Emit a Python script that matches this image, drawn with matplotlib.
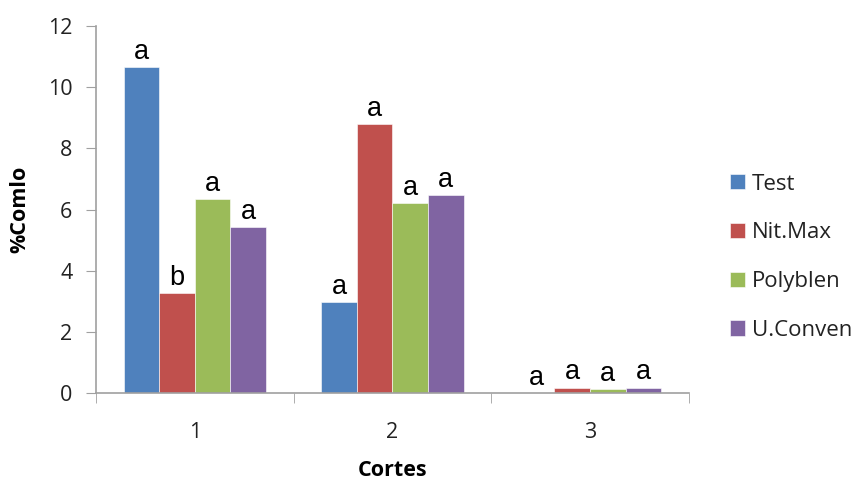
import matplotlib
matplotlib.use("Agg")
import matplotlib.pyplot as plt
import numpy as np

categories = ["1", "2", "3"]
series_names = ["Test", "Nit.Max", "Polyblen", "U.Conven"]
test = [10.66, 2.98, 0.0]
nitmax = [3.28, 8.78, 0.18]
polyblen = [6.34, 6.21, 0.13]
uconven = [5.42, 6.46, 0.18]
letters_test = ["a", "a", "a"]
letters_nitmax = ["b", "a", "a"]
letters_polyblen = ["a", "a", "a"]
letters_uconven = ["a", "a", "a"]
yticks = [0, 2, 4, 6, 8, 10, 12]

colors = ["#4F81BD", "#C0504D", "#9BBB59", "#8064A2"]
series = [test, nitmax, polyblen, uconven]
letters = [letters_test, letters_nitmax, letters_polyblen, letters_uconven]

fig = plt.figure(figsize=(8.61, 4.79), dpi=100)
ax = fig.add_axes([0.1115, 0.1795, 0.6885, 0.7662])

x = np.arange(len(categories))
w = 0.18
for i, (vals, c, name, lets) in enumerate(zip(series, colors, series_names, letters)):
    pos = x + (i - 1.5) * w
    ax.bar(pos, vals, width=w, color=c, label=name, edgecolor="white", linewidth=0.4)
    for p, v, l in zip(pos, vals, lets):
        ax.annotate(l, (p, v), xytext=(0, 1.5), textcoords="offset points",
                    ha="center", va="bottom", fontsize=19.5, family="Liberation Sans")

ax.set_xlim(-0.5, 2.5)
ax.set_ylim(0, 12)
ax.set_yticks(yticks)
ax.set_xticks(x)
ax.set_xticklabels(categories)
ax.set_xticks([-0.5, 0.5, 1.5, 2.5], minor=True)
ax.tick_params(axis="x", which="major", length=0, pad=21, labelsize=15.5, labelcolor="#222222")
ax.tick_params(axis="x", which="minor", length=7, color="#A0A0A0", direction="out")
ax.tick_params(axis="y", length=7, color="#A0A0A0", direction="out", labelsize=15.5,
               pad=10, labelcolor="#222222")
for lab in ax.get_xticklabels() + ax.get_yticklabels():
    lab.set_family("Open Sans")

for s in ["top", "right"]:
    ax.spines[s].set_visible(False)
for s in ["left", "bottom"]:
    ax.spines[s].set_color("#A0A0A0")
    ax.spines[s].set_linewidth(1.2)

ax.set_ylabel("%Comlo", fontsize=15.5, fontweight="bold", family="Open Sans")
ax.set_xlabel("Cortes", fontsize=15.5, fontweight="bold", family="Open Sans")
ax.yaxis.set_label_coords(-0.128, 0.5)
ax.yaxis.label.set_va("center")
ax.xaxis.set_label_coords(0.5, -0.21)
ax.xaxis.label.set_va("center")

leg = ax.legend(loc="center left", bbox_to_anchor=(1.07, 0.37), frameon=False,
                prop={"family": "Open Sans", "size": 16},
                handlelength=0.68, handleheight=0.68, handletextpad=0.3,
                labelspacing=1.25, borderaxespad=0, borderpad=0)
for t in leg.get_texts():
    t.set_color("#222222")

fig.savefig("out.png", dpi=100)
